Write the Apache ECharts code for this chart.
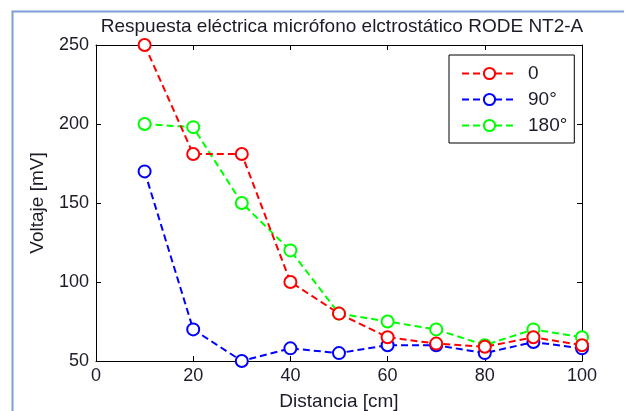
<!DOCTYPE html>
<html>
<head>
<meta charset="utf-8">
<script src="https://cdn.jsdelivr.net/npm/echarts@6/dist/echarts.min.js"></script>
<style>html,body{margin:0;padding:0;background:#fff}#c{width:628px;height:411px}</style>
</head>
<body>
<div id="c"></div>
<script>
const distances = [10, 20, 30, 40, 50, 60, 70, 80, 90, 100];
const serie0 = [250, 181, 181, 100, 80, 65, 61, 59, 65, 60];
const serie90 = [170, 70, 50, 58, 55, 60, 60, 55, 62, 58];
const serie180 = [200, 198, 150, 120, 80, 75, 70, 60, 70, 65];
const seriesNames = ['0', '90°', '180°'];
const seriesColors = ['#ff0000', '#0000ff', '#00ff00'];
const xTicks = [0, 20, 40, 60, 80, 100];
const yTicks = [50, 100, 150, 200, 250];

const FONT = '"Liberation Sans", Arial, sans-serif';
const TXT = '#1c1c28';
const chart = echarts.init(document.getElementById('c'), null, {renderer: 'canvas'});

function pairs(vals) { return distances.map((d, i) => [d, vals[i]]); }
const allVals = [serie0, serie90, serie180];

const axisCommon = {
  axisLine: {show: true, onZero: false, lineStyle: {color: '#000', width: 1}},
  axisTick: {show: true, inside: true, length: 5, lineStyle: {color: '#000'}},
  splitLine: {show: false}
};

chart.setOption({
  animation: false,
  backgroundColor: '#fff',
  title: {
    text: 'Respuesta eléctrica micrófono elctrostático RODE NT2-A',
    left: 337, textAlign: 'center', top: 12,
    textStyle: {fontFamily: FONT, fontSize: 19, fontWeight: 'normal', color: TXT}
  },
  grid: {left: 96, right: 46, top: 45, bottom: 50, containLabel: false, outerBoundsMode: 'none'},
  legend: {
    orient: 'vertical', left: 449, top: 55,
    data: seriesNames,
    backgroundColor: '#fff', borderColor: '#000', borderWidth: 1, borderRadius: 0,
    padding: [9, 7, 8, 12], itemGap: 7, itemWidth: 55, itemHeight: 14,
    textStyle: {fontFamily: FONT, fontSize: 19, color: TXT, padding: [0, 0, 0, 6]}
  },
  xAxis: [
    Object.assign({}, axisCommon, {
      type: 'value', min: xTicks[0], max: xTicks[xTicks.length - 1], interval: 20,
      name: 'Distancia [cm]', nameLocation: 'middle', nameGap: 31,
      nameTextStyle: {fontFamily: FONT, fontSize: 19, color: TXT},
      axisLabel: {fontFamily: FONT, fontSize: 18, color: TXT, margin: 6}
    }),
    Object.assign({}, axisCommon, {
      type: 'value', position: 'top', min: xTicks[0], max: xTicks[xTicks.length - 1], interval: 20,
      axisLabel: {show: false}
    })
  ],
  yAxis: [
    Object.assign({}, axisCommon, {
      type: 'value', min: yTicks[0], max: yTicks[yTicks.length - 1], interval: 50,
      name: 'Voltaje [mV]', nameLocation: 'middle', nameGap: 49,
      nameTextStyle: {fontFamily: FONT, fontSize: 19, color: TXT},
      axisLabel: {fontFamily: FONT, fontSize: 18, color: TXT, margin: 7}
    }),
    Object.assign({}, axisCommon, {
      type: 'value', position: 'right', min: yTicks[0], max: yTicks[yTicks.length - 1], interval: 50,
      axisLabel: {show: false}
    })
  ],
  series: seriesNames.map((n, i) => ({
    name: n, type: 'line', data: pairs(allVals[i]),
    symbol: 'emptyCircle', symbolSize: 12, showSymbol: true,
    lineStyle: {color: seriesColors[i], width: 2, type: [7, 4]},
    itemStyle: {color: seriesColors[i], borderColor: seriesColors[i], borderWidth: 2},
    z: 3 - i
  })),
  graphic: [
    {type: 'polyline', shape: {points: [[12.5, 411], [12.5, 11.5], [624, 11.5]]},
     style: {stroke: '#7a9fd6', lineWidth: 2, fill: null}, silent: true}
  ]
});
</script>
</body>
</html>
